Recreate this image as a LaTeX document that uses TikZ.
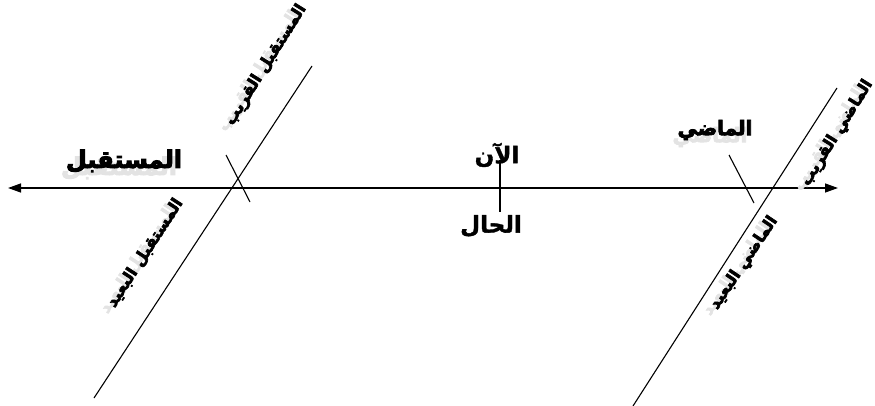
\documentclass[tikz,border=0pt]{standalone}
\usepackage{fontspec}
\usetikzlibrary{arrows.meta}
\TeXXeTstate=1
\newfontfamily\arabicfont[Script=Arabic,FakeBold=4]{DejaVu Sans Bold}
\newfontfamily\arabicplain[Script=Arabic,FakeBold=1.5]{DejaVu Sans Bold}
\newcommand{\ar}[1]{\arabicfont\beginR #1\endR}
\newcommand{\arp}[1]{\arabicplain\beginR #1\endR}
\begin{document}
\begin{tikzpicture}[x=1pt,y=-1pt,
  ln/.style={line width=1.1pt,black},
  axis/.style={line width=1.4pt,black,{Triangle[length=13pt,width=9pt]}-{Triangle[length=13pt,width=9pt]}},
  big/.style={font=\fontsize{24}{27}\selectfont,inner sep=0pt},
  mid/.style={font=\fontsize{23}{26}\selectfont,inner sep=0pt},
  small/.style={font=\fontsize{16}{19}\selectfont,inner sep=0pt},
  past/.style={font=\fontsize{20}{23}\selectfont,inner sep=0pt},
  shade/.style={text=gray!22}]
\useasboundingbox (0,0) rectangle (875,406);
% axis
\coordinate (tL) at (8,188);
\coordinate (tR) at (838,188);
\draw[axis] (tL) -- (tR);
% future line
\coordinate (fA) at (94,398);
\coordinate (fB) at (312,66);
\coordinate (fC) at (226,155);
\coordinate (fD) at (250,202);
\draw[ln] (fA) -- (fB);
\draw[ln] (fC) -- (fD);
% now tick
\coordinate (nA) at (500,160);
\coordinate (nB) at (500,212);
\draw[ln] (nA) -- (nB);
% past line
\coordinate (pA) at (633,406);
\coordinate (pB) at (837,88);
\coordinate (pC) at (729,155);
\coordinate (pD) at (754,203);
\draw[ln] (pA) -- (pB);
\draw[ln] (pC) -- (pD);
% shadows
\node[big,shade] (s1) at (119,168) {\ar{المستقبل}};
\node[small,shade,rotate=58] (s2) at (259,71) {\ar{المستقبل القريب}};
\node[small,shade,rotate=57] (s3) at (138,259) {\ar{المستقبل البعيد}};
\node[past,shade] (s4) at (710,137) {\ar{الماضي}};
\node[small,shade,rotate=58] (s5) at (830,138) {\ar{الماضي القريب}};
\node[small,shade,rotate=56] (s6) at (737,269) {\ar{الماضي البعيد}};
% labels
\node[big] (Lfut) at (124,161) {\ar{المستقبل}};
\node[small,rotate=58] (Lnf) at (266,65) {\ar{المستقبل القريب}};
\node[small,rotate=57] (Lff) at (145,253) {\ar{المستقبل البعيد}};
\node[mid] (Lnow) at (497,155) {\arp{الآن}};
\node[mid] (Lpres) at (491,226) {\arp{الحال}};
\node[past] (Lpast) at (715,130) {\ar{الماضي}};
\node[small,rotate=58] (Lnp) at (837,133) {\ar{الماضي القريب}};
\node[small,rotate=56] (Lfp) at (744,263) {\ar{الماضي البعيد}};
\end{tikzpicture}
\end{document}
